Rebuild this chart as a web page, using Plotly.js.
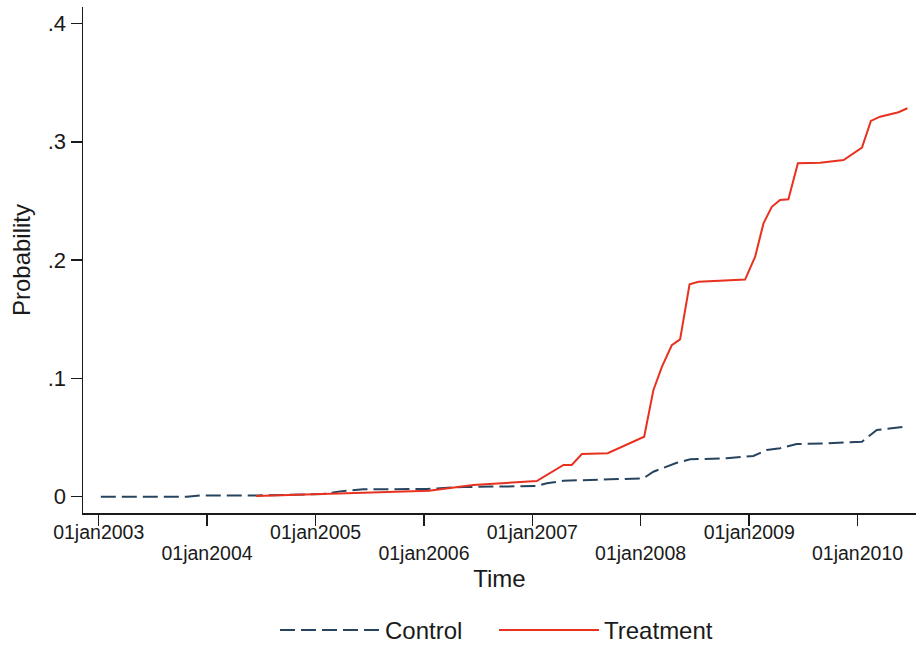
<!DOCTYPE html>
<html>
<head>
<meta charset="utf-8">
<script src="https://cdn.plot.ly/plotly-3.0.1.min.js"></script>
<style>
  html, body { margin: 0; padding: 0; background: #ffffff; }
  #chart { width: 916px; height: 645px; }
</style>
</head>
<body>
<div id="chart"></div>
<script>
// Cumulative probability over time, control vs treatment group
const controlDates = [
  '2003-01-08', '2003-10-25', '2003-12-08', '2004-06-14', '2005-01-27',
  '2005-03-24', '2005-06-10', '2006-01-10', '2006-05-14', '2007-01-16',
  '2007-02-19', '2007-04-16', '2007-09-20', '2008-01-10', '2008-02-13',
  '2008-05-02', '2008-06-16', '2008-10-17', '2009-01-15', '2009-03-01',
  '2009-04-15', '2009-06-10', '2009-09-19', '2010-01-16', '2010-03-07',
  '2010-04-21', '2010-06-18'
];
const controlValues = [
  0, 0, 0.001, 0.001, 0.0023,
  0.0045, 0.0062, 0.0066, 0.0082, 0.009,
  0.0113, 0.0135, 0.0147, 0.0155, 0.0211,
  0.0287, 0.0316, 0.0325, 0.0344, 0.0395,
  0.0409, 0.0445, 0.0451, 0.0465, 0.0564,
  0.0578, 0.0594
];

const treatmentDates = [
  '2004-06-14', '2005-02-07', '2006-01-18', '2006-06-16', '2007-01-16',
  '2007-04-16', '2007-05-14', '2007-06-17', '2007-09-12', '2008-01-13',
  '2008-02-13', '2008-03-13', '2008-04-15', '2008-05-13', '2008-06-14',
  '2008-07-14', '2008-12-18', '2009-01-21', '2009-02-18', '2009-03-18',
  '2009-04-15', '2009-05-13', '2009-06-14', '2009-08-28', '2009-11-15',
  '2010-01-16', '2010-02-15', '2010-03-18', '2010-05-19', '2010-06-18'
];
const treatmentValues = [
  0.0005, 0.0023, 0.005, 0.0099, 0.0132,
  0.0268, 0.0268, 0.036, 0.0368, 0.0507,
  0.090, 0.110, 0.128, 0.133, 0.1795,
  0.1817, 0.1835, 0.2029, 0.231, 0.245,
  0.2508, 0.2514, 0.2818, 0.2823, 0.2846,
  0.295, 0.3176, 0.3212, 0.325, 0.3283
];

// Axis ticks
const yTickVals = [0, 0.1, 0.2, 0.3, 0.4];
const yTickText = ['0', '.1', '.2', '.3', '.4'];
const xTickVals = ['2003-01-01', '2004-01-01', '2005-01-01', '2006-01-01',
                   '2007-01-01', '2008-01-01', '2009-01-01', '2010-01-01'];
const xTickText = ['01jan2003', '01jan2004', '01jan2005', '01jan2006',
                   '01jan2007', '01jan2008', '01jan2009', '01jan2010'];

const xRange = ['2002-11-09', '2010-07-17'];
const yRange = [-0.01378, 0.4139];

const FONT = 'Liberation Sans, Arial, sans-serif';
const INK = '#1a1a1a';

// Staggered date labels: odd positions on the main axis, even ones one row lower
const upperText = xTickText.map((t, i) => (i % 2 === 0 ? t : ''));
const lowerVals = xTickVals.filter((_, i) => i % 2 === 1);
const lowerText = xTickText.filter((_, i) => i % 2 === 1);

const traces = [
  {
    x: controlDates, y: controlValues,
    type: 'scatter', mode: 'lines', name: 'Control',
    xaxis: 'x', yaxis: 'y',
    line: { color: '#27445f', width: 2, dash: '15px,6px' }
  },
  {
    x: treatmentDates, y: treatmentValues,
    type: 'scatter', mode: 'lines', name: 'Treatment',
    xaxis: 'x2', yaxis: 'y',
    line: { color: '#e8311f', width: 2 }
  }
];

const layout = {
  width: 916, height: 645,
  margin: { l: 83, r: 0, t: 7, b: 132, autoexpand: false },
  paper_bgcolor: '#ffffff', plot_bgcolor: '#ffffff',
  font: { family: FONT, color: INK },
  showlegend: true,
  xaxis: {
    type: 'date', range: xRange,
    tickmode: 'array', tickvals: xTickVals, ticktext: upperText,
    ticks: 'outside', ticklen: 11, tickwidth: 1.5, tickcolor: INK,
    ticklabelstandoff: -10,
    showline: true, linecolor: INK, linewidth: 1.5,
    showgrid: false, zeroline: false,
    tickfont: { size: 19.5, family: FONT, color: INK },
    title: { text: 'Time', font: { size: 24, family: FONT, color: INK }, standoff: 28 }
  },
  xaxis2: {
    type: 'date', range: xRange, overlaying: 'x', anchor: 'y', side: 'bottom',
    tickmode: 'array', tickvals: lowerVals, ticktext: lowerText,
    ticks: 'outside', ticklen: 11, tickcolor: 'rgba(0,0,0,0)',
    ticklabelstandoff: 12,
    showline: false, showgrid: false, zeroline: false,
    tickfont: { size: 19.5, family: FONT, color: INK }
  },
  yaxis: {
    range: yRange,
    tickmode: 'array', tickvals: yTickVals, ticktext: yTickText,
    ticks: 'outside', ticklen: 11, tickwidth: 1.5, tickcolor: INK,
    showline: true, linecolor: INK, linewidth: 1.5,
    showgrid: false, zeroline: false,
    tickfont: { size: 22, family: FONT, color: INK },
    title: { text: 'Probability', font: { size: 24, family: FONT, color: INK }, standoff: 10 }
  },
  legend: {
    orientation: 'h',
    xref: 'container', yref: 'container',
    x: 275 / 916, xanchor: 'left',
    y: (645 - 630.5) / 645, yanchor: 'middle',
    font: { size: 24, family: FONT, color: INK },
    itemwidth: 100,
    entrywidth: 104, entrywidthmode: 'pixels',
    bgcolor: 'rgba(0,0,0,0)', borderwidth: 0
  }
};

Plotly.newPlot('chart', traces, layout, { staticPlot: true, displayModeBar: false });
</script>
</body>
</html>
